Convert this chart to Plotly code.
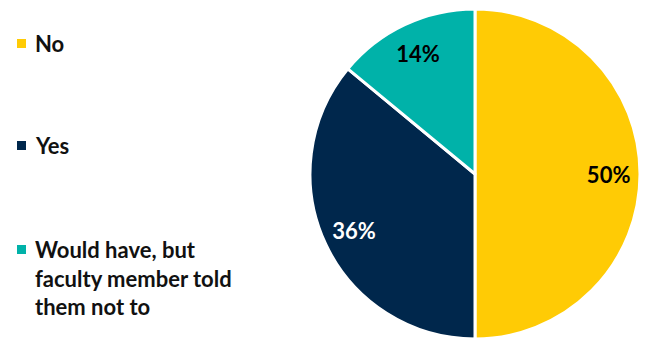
import plotly.graph_objects as go

# ---- data ----
labels = ["No", "Yes", "Would have, but faculty member told them not to"]
legend_lines = [["No"], ["Yes"], ["Would have, but", "faculty member told", "them not to"]]
values = [50, 36, 14]
colors = ["#FFCB05", "#00274C", "#00B2A9"]
text_colors = ["#000000", "#FFFFFF", "#000000"]

# ---- layout constants ----
W, H = 650, 339
CX, CY, R = 475, 174, 165
FONT = "Lato"
FS = 22
LINE = 28
row_y = [43.5, 145.5, 249.5]   # first-line centre of each legend row (px from top)

domain = dict(x=[(CX - R) / W, (CX + R) / W],
              y=[max(0, 1 - (CY + R) / H), 1 - (CY - R) / H])

fig = go.Figure()
# filled slices
fig.add_trace(go.Pie(
    labels=labels, values=values, sort=False,
    direction="clockwise", rotation=0,
    marker=dict(colors=colors, line=dict(color="white", width=3)),
    textinfo="none",
    hovertemplate="%{label}: %{percent:.0%}<extra></extra>",
    showlegend=False, domain=domain,
))
# percentage labels, placed in an outer ring so they sit near the rim
fig.add_trace(go.Pie(
    labels=labels, values=values, sort=False,
    direction="clockwise", rotation=0, hole=0.62,
    marker=dict(colors=["rgba(0,0,0,0)"] * len(values), line=dict(width=0)),
    textinfo="percent",
    texttemplate="<b>%{percent:.0%}</b>",
    textposition="inside",
    insidetextorientation="horizontal",
    textfont=dict(family=FONT, size=FS, color=text_colors),
    hoverinfo="skip",
    showlegend=False, domain=domain,
))

shapes = []
annotations = []
for lines, col, y in zip(legend_lines, colors, row_y):
    sq = 4.5
    shapes.append(dict(type="rect", xref="paper", yref="paper",
                       x0=(21.5 - sq) / W, x1=(21.5 + sq) / W,
                       y0=1 - (y + sq) / H, y1=1 - (y - sq) / H,
                       fillcolor=col, line=dict(width=0)))
    n = len(lines)
    yc = y + (n - 1) * LINE / 2
    annotations.append(dict(xref="paper", yref="paper", x=33 / W, y=1 - yc / H,
                            xanchor="left", yanchor="middle", align="left",
                            showarrow=False,
                            text="<br>".join(f"<b>{t}</b>" for t in lines),
                            font=dict(family=FONT, size=FS, color="#111111")))

fig.update_layout(
    width=W, height=H,
    margin=dict(l=0, r=0, t=0, b=0),
    paper_bgcolor="white", plot_bgcolor="white",
    shapes=shapes, annotations=annotations,
)

fig.write_html("out.html")
